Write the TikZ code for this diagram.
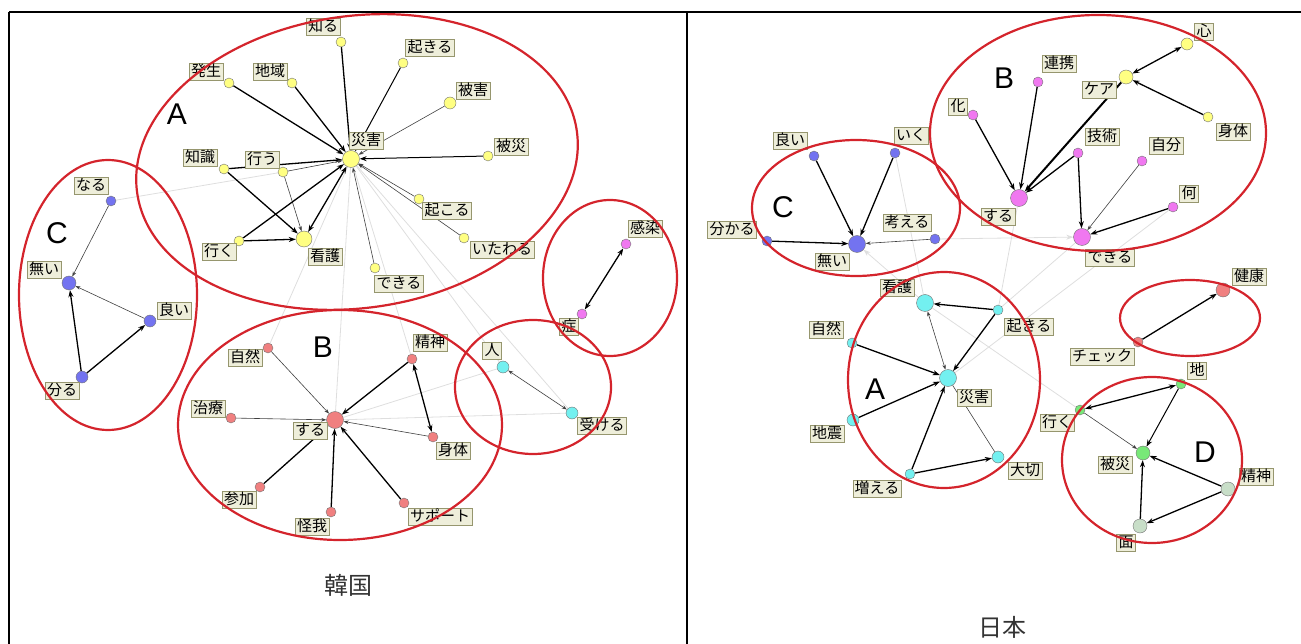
\documentclass[tikz,border=0pt]{standalone}
\usepackage{fontspec}
\newfontfamily\tagfont{Noto Sans CJK JP}
\newfontfamily\latinfont{Liberation Sans}
\usetikzlibrary{arrows.meta,backgrounds}

\definecolor{tagfill}{RGB}{238,238,218}
\definecolor{tagline}{RGB}{150,150,110}
\definecolor{ringred}{RGB}{212,36,44}
\definecolor{wyellow}{RGB}{255,255,130}
\definecolor{wblue}{RGB}{115,115,240}
\definecolor{wred}{RGB}{240,128,128}
\definecolor{wcyan}{RGB}{115,240,240}
\definecolor{wpink}{RGB}{240,120,240}
\definecolor{wgreen}{RGB}{120,232,120}
\definecolor{wpale}{RGB}{200,222,200}

\tikzset{
  word/.style={circle, draw=black!55, line width=0.4pt, fill=#1, inner sep=0pt, minimum size=10pt},
  hub/.style={minimum size=17pt},
  tag/.style={draw=tagline, fill=tagfill, inner xsep=2pt, inner ysep=1.5pt,
    text height=11.5pt, text depth=2.5pt, font={\tagfont\fontsize{15pt}{15pt}\selectfont}},
  strong/.style={->, line width=1.3pt},
  weak/.style={->, >={Stealth[length=5pt,width=3.5pt]}, line width=0.6pt, draw=black!75},
  faint/.style={draw=black!13, line width=0.8pt},
  ring/.style={draw=ringred, line width=2.2pt},
  cluster/.style={font={\latinfont\fontsize{30pt}{30pt}\selectfont}},
  caption/.style={text=black!80, font={\tagfont\fontsize{24pt}{24pt}\selectfont}},
}

\begin{document}
\begin{tikzpicture}[x=1pt, y=-1pt, >={Stealth[length=7pt,width=5pt]}]
\useasboundingbox (0,0) rectangle (1301,644);
% table frame
\draw[line width=1.2pt] (9,12) -- (1301,12);
\draw[line width=1.2pt] (9,12) -- (9,644);
\draw[line width=1.2pt] (687,12) -- (687,644);

% ---- Korea ----
\node[word=wyellow, hub] (kSaigai) at (351,159) {};  \node[tag] (kSaigaiT) at (366,141) {災害};
\node[word=wyellow] (kHassei) at (229,83) {};        \node[tag] (kHasseiT) at (206,72) {発生};
\node[word=wyellow] (kChiiki) at (292,83) {};        \node[tag] (kChiikiT) at (270,72) {地域};
\node[word=wyellow] (kShiru) at (341,42) {};         \node[tag] (kShiruT) at (323,27) {知る};
\node[word=wyellow] (kOkiru) at (403,63) {};         \node[tag] (kOkiruT) at (430,48) {起きる};
\node[word=wyellow, minimum size=12pt] (kHigai) at (450,103) {}; \node[tag] (kHigaiT) at (473,91) {被害};
\node[word=wyellow] (kHisai) at (488,156) {};        \node[tag] (kHisaiT) at (511,147) {被災};
\node[word=wyellow] (kOkoru) at (419,199) {};        \node[tag] (kOkoruT) at (447,211) {起こる};
\node[word=wyellow] (kItawaru) at (464,238) {};      \node[tag] (kItawaruT) at (502,250) {いたわる};
\node[word=wyellow] (kDekiru) at (375,268) {};       \node[tag] (kDekiruT) at (399,284) {できる};
\node[word=wyellow] (kChishiki) at (224,169) {};     \node[tag] (kChishikiT) at (200,158) {知識};
\node[word=wyellow] (kOkonau) at (283,172) {};       \node[tag] (kOkonauT) at (262,160) {行う};
\node[word=wyellow] (kIku) at (239,241) {};          \node[tag] (kIkuT) at (219,252) {行く};
\node[word=wyellow, minimum size=16pt] (kKango) at (304,239) {}; \node[tag] (kKangoT) at (325,257) {看護};

\node[word=wblue] (kNaru) at (111,201) {};           \node[tag] (kNaruT) at (91,186) {なる};
\node[word=wblue, minimum size=14pt] (kNai) at (69,283) {}; \node[tag] (kNaiT) at (44,270) {無い};
\node[word=wblue, minimum size=12pt] (kYoi) at (150,321) {}; \node[tag] (kYoiT) at (174,311) {良い};
\node[word=wblue, minimum size=12pt] (kWakaru) at (82,377) {}; \node[tag] (kWakaruT) at (62,391) {分る};

\node[word=wred, hub] (kSuru) at (335,420) {};       \node[tag] (kSuruT) at (310,431) {する};
\node[word=wred] (kShizen) at (268,348) {};          \node[tag] (kShizenT) at (245,358) {自然};
\node[word=wred] (kChiryo) at (231,418) {};          \node[tag] (kChiryoT) at (208,409) {治療};
\node[word=wred] (kSeishin) at (412,359) {};         \node[tag] (kSeishinT) at (430,343) {精神};
\node[word=wred] (kShintai) at (433,437) {};         \node[tag] (kShintaiT) at (453,451) {身体};
\node[word=wred] (kSanka) at (260,487) {};           \node[tag] (kSankaT) at (239,500) {参加};
\node[word=wred] (kKega) at (331,512) {};            \node[tag] (kKegaT) at (312,527) {怪我};
\node[word=wred] (kSupport) at (404,503) {};         \node[tag] (kSupportT) at (440,517) {サポート};

\node[word=wcyan, minimum size=12pt] (kHito) at (503,367) {}; \node[tag] (kHitoT) at (492,351) {人};
\node[word=wcyan, minimum size=12pt] (kUkeru) at (572,413) {}; \node[tag] (kUkeruT) at (602,426) {受ける};
\node[word=wpink] (kKansen) at (626,244) {};         \node[tag] (kKansenT) at (645,229) {感染};
\node[word=wpink] (kSho) at (582,314) {};            \node[tag] (kShoT) at (569,327) {症};

\node[cluster] (kA) at (177,114) {A};
\node[cluster] (kB) at (323,347) {B};
\node[cluster] (kC) at (57,233) {C};
\node[caption] (kCaption) at (348,585) {韓国};

% ---- Japan ----
\node[word=wblue, hub] (jNai) at (857,244) {};       \node[tag] (jNaiT) at (832,262) {無い};
\node[word=wblue] (jYoi) at (814,156) {};            \node[tag] (jYoiT) at (790,141) {良い};
\node[word=wblue] (jIku) at (895,153) {};            \node[tag] (jIkuT) at (911,136) {いく};
\node[word=wblue] (jWakaru) at (767,241) {};         \node[tag] (jWakaruT) at (732,230) {分かる};
\node[word=wblue] (jKangaeru) at (935,239) {};       \node[tag] (jKangaeruT) at (907,223) {考える};

\node[word=wpink, hub] (jSuru) at (1019,198) {};     \node[tag] (jSuruT) at (998,217) {する};
\node[word=wpink, hub] (jDekiru) at (1082,237) {};   \node[tag] (jDekiruT) at (1110,258) {できる};
\node[word=wpink] (jKa) at (973,115) {};             \node[tag] (jKaT) at (958,107) {化};
\node[word=wpink] (jRenkei) at (1038,82) {};         \node[tag] (jRenkeiT) at (1059,64) {連携};
\node[word=wpink] (jGijutsu) at (1078,153) {};       \node[tag] (jGijutsuT) at (1102,137) {技術};
\node[word=wpink] (jJibun) at (1142,161) {};         \node[tag] (jJibunT) at (1166,146) {自分};
\node[word=wpink] (jNani) at (1173,207) {};          \node[tag] (jNaniT) at (1189,194) {何};
\node[word=wyellow, minimum size=14pt] (jCare) at (1126,77) {}; \node[tag] (jCareT) at (1099,90) {ケア};
\node[word=wyellow, minimum size=12pt] (jKokoro) at (1187,44) {}; \node[tag] (jKokoroT) at (1204,32) {心};
\node[word=wyellow] (jShintai) at (1208,117) {};     \node[tag] (jShintaiT) at (1233,132) {身体};

\node[word=wcyan, hub] (jSaigai) at (948,378) {};    \node[tag] (jSaigaiT) at (974,398) {災害};
\node[word=wcyan, hub] (jKango) at (925,303) {};     \node[tag] (jKangoT) at (897,288) {看護};
\node[word=wcyan] (jOkiru) at (998,310) {};          \node[tag] (jOkiruT) at (1029,327) {起きる};
\node[word=wcyan] (jShizen) at (852,343) {};         \node[tag] (jShizenT) at (826,330) {自然};
\node[word=wcyan, minimum size=12pt] (jJishin) at (853,420) {}; \node[tag] (jJishinT) at (827,434) {地震};
\node[word=wcyan] (jFueru) at (910,474) {};          \node[tag] (jFueruT) at (877,489) {増える};
\node[word=wcyan, minimum size=12pt] (jTaisetsu) at (998,457) {}; \node[tag] (jTaisetsuT) at (1025,471) {大切};

\node[word=wred, minimum size=14pt] (jKenko) at (1223,290) {}; \node[tag] (jKenkoT) at (1249,277) {健康};
\node[word=wred] (jCheck) at (1138,342) {};          \node[tag] (jCheckT) at (1102,357) {チェック};

\node[word=wgreen, minimum size=14pt] (jHisai) at (1143,453) {}; \node[tag] (jHisaiT) at (1115,465) {被災};
\node[word=wgreen] (jChi) at (1181,384) {};          \node[tag] (jChiT) at (1197,371) {地};
\node[word=wgreen] (jIkuD) at (1080,410) {};         \node[tag] (jIkuDT) at (1057,423) {行く};
\node[word=wpale, minimum size=14pt] (jSeishin) at (1228,489) {}; \node[tag] (jSeishinT) at (1256,477) {精神};
\node[word=wpale, minimum size=14pt] (jMen) at (1140,526) {}; \node[tag] (jMenT) at (1126,543) {面};

\node[cluster] (jA) at (875,389) {A};
\node[cluster] (jB) at (1004,78) {B};
\node[cluster] (jC) at (783,207) {C};
\node[cluster] (jD) at (1205,452) {D};
\node[caption] (jCaption) at (1002,627) {日本};

\begin{pgfonlayer}{background}
% faint links between groups
\draw[faint] (kNaru) -- (kOkonau);
\draw[faint] (kSaigai) -- (kShizen);
\draw[faint] (kSaigai) -- (kSuru);
\draw[faint] (kSaigai) -- (kSeishin);
\draw[faint] (kSaigai) -- (kHito);
\draw[faint] (kSaigai) -- (kUkeru);
\draw[faint] (kSuru) -- (kHito);
\draw[faint] (kSuru) -- (kUkeru);
\draw[faint] (jIku) -- (jKango);
\draw[faint, ->] (jKango) -- (jNai);
\draw[faint, ->] (jKangaeru) -- (jDekiru);
\draw[faint] (jSuru) -- (jOkiru);
\draw[faint] (jOkiru) -- (jDekiru);
\draw[faint] (jSaigai) -- (jNani);
\draw[faint] (jKango) -- (jIkuD);

% Korea, A
\draw[strong] (kHassei) -- (kSaigai);
\draw[strong] (kChiiki) -- (kSaigai);
\draw[strong] (kShiru) -- (kSaigai);
\draw[strong, line width=1pt] (kOkiru) -- (kSaigai);
\draw[weak] (kHigai) -- (kSaigai);
\draw[strong, line width=1pt] (kHisai) -- (kSaigai);
\draw[weak] (kOkoru) -- (kSaigai);
\draw[weak] (kItawaru) -- (kSaigai);
\draw[weak] (kDekiru) -- (kSaigai);
\draw[strong] (kChishiki) -- (kSaigai);
\draw[strong] (kChishiki) -- (kKango);
\draw[weak] (kOkonau) -- (kSaigai);
\draw[weak] (kOkonau) -- (kKango);
\draw[strong] (kIku) -- (kSaigai);
\draw[strong] (kIku) -- (kKango);
\draw[strong, <->] (kKango) -- (kSaigai);
% Korea, C
\draw[weak] (kNaru) -- (kNai);
\draw[weak] (kYoi) -- (kNai);
\draw[strong] (kWakaru) -- (kNai);
\draw[strong] (kWakaru) -- (kYoi);
% Korea, B
\draw[weak] (kShizen) -- (kSuru);
\draw[weak] (kChiryo) -- (kSuru);
\draw[strong] (kSanka) -- (kSuru);
\draw[strong] (kKega) -- (kSuru);
\draw[strong] (kSupport) -- (kSuru);
\draw[strong] (kSeishin) -- (kSuru);
\draw[weak] (kShintai) -- (kSuru);
\draw[strong, <->] (kSeishin) -- (kShintai);
\draw[weak, <->] (kHito) -- (kUkeru);
\draw[strong, <->] (kSho) -- (kKansen);

% Japan, C
\draw[strong] (jYoi) -- (jNai);
\draw[strong] (jIku) -- (jNai);
\draw[strong] (jWakaru) -- (jNai);
\draw[weak] (jKangaeru) -- (jNai);
% Japan, B
\draw[strong] (jKa) -- (jSuru);
\draw[strong] (jRenkei) -- (jSuru);
\draw[strong, line width=2pt] (jCare) -- (jSuru);
\draw[strong] (jGijutsu) -- (jSuru);
\draw[strong] (jGijutsu) -- (jDekiru);
\draw[weak] (jJibun) -- (jDekiru);
\draw[strong] (jNani) -- (jDekiru);
\draw[strong, <->] (jCare) -- (jKokoro);
\draw[strong] (jShintai) -- (jCare);
% Japan, A
\draw[strong] (jOkiru) -- (jKango);
\draw[strong] (jOkiru) -- (jSaigai);
\draw[weak, <->] (jKango) -- (jSaigai);
\draw[strong] (jShizen) -- (jSaigai);
\draw[strong] (jJishin) -- (jSaigai);
\draw[strong] (jFueru) -- (jSaigai);
\draw[strong] (jFueru) -- (jTaisetsu);
\draw[weak, -] (jSaigai) -- (jTaisetsu);
% Japan, health and D
\draw[strong] (jCheck) -- (jKenko);
\draw[strong, <->] (jIkuD) -- (jChi);
\draw[strong, line width=1pt] (jChi) -- (jHisai);
\draw[weak] (jIkuD) -- (jHisai);
\draw[strong] (jSeishin) -- (jHisai);
\draw[strong] (jSeishin) -- (jMen);
\draw[strong] (jMen) -- (jHisai);
\end{pgfonlayer}

% groups
\draw[ring, rotate around={8:(357,162)}] (357,162) ellipse [x radius=222pt, y radius=146pt];
\draw[ring] (108,295) ellipse [x radius=89pt, y radius=135pt];
\draw[ring] (340,425) ellipse [x radius=162pt, y radius=115pt];
\draw[ring] (533,387) ellipse [x radius=78pt, y radius=67pt];
\draw[ring] (610,278) ellipse [x radius=67pt, y radius=78pt];
\draw[ring] (856,208) ellipse [x radius=104pt, y radius=68pt];
\draw[ring] (1098,133) ellipse [x radius=168pt, y radius=118pt];
\draw[ring] (944,380) ellipse [x radius=96pt, y radius=108pt];
\draw[ring] (1190,318) ellipse [x radius=70pt, y radius=38pt];
\draw[ring] (1152,460) ellipse [x radius=90pt, y radius=83pt];
\end{tikzpicture}
\end{document}
